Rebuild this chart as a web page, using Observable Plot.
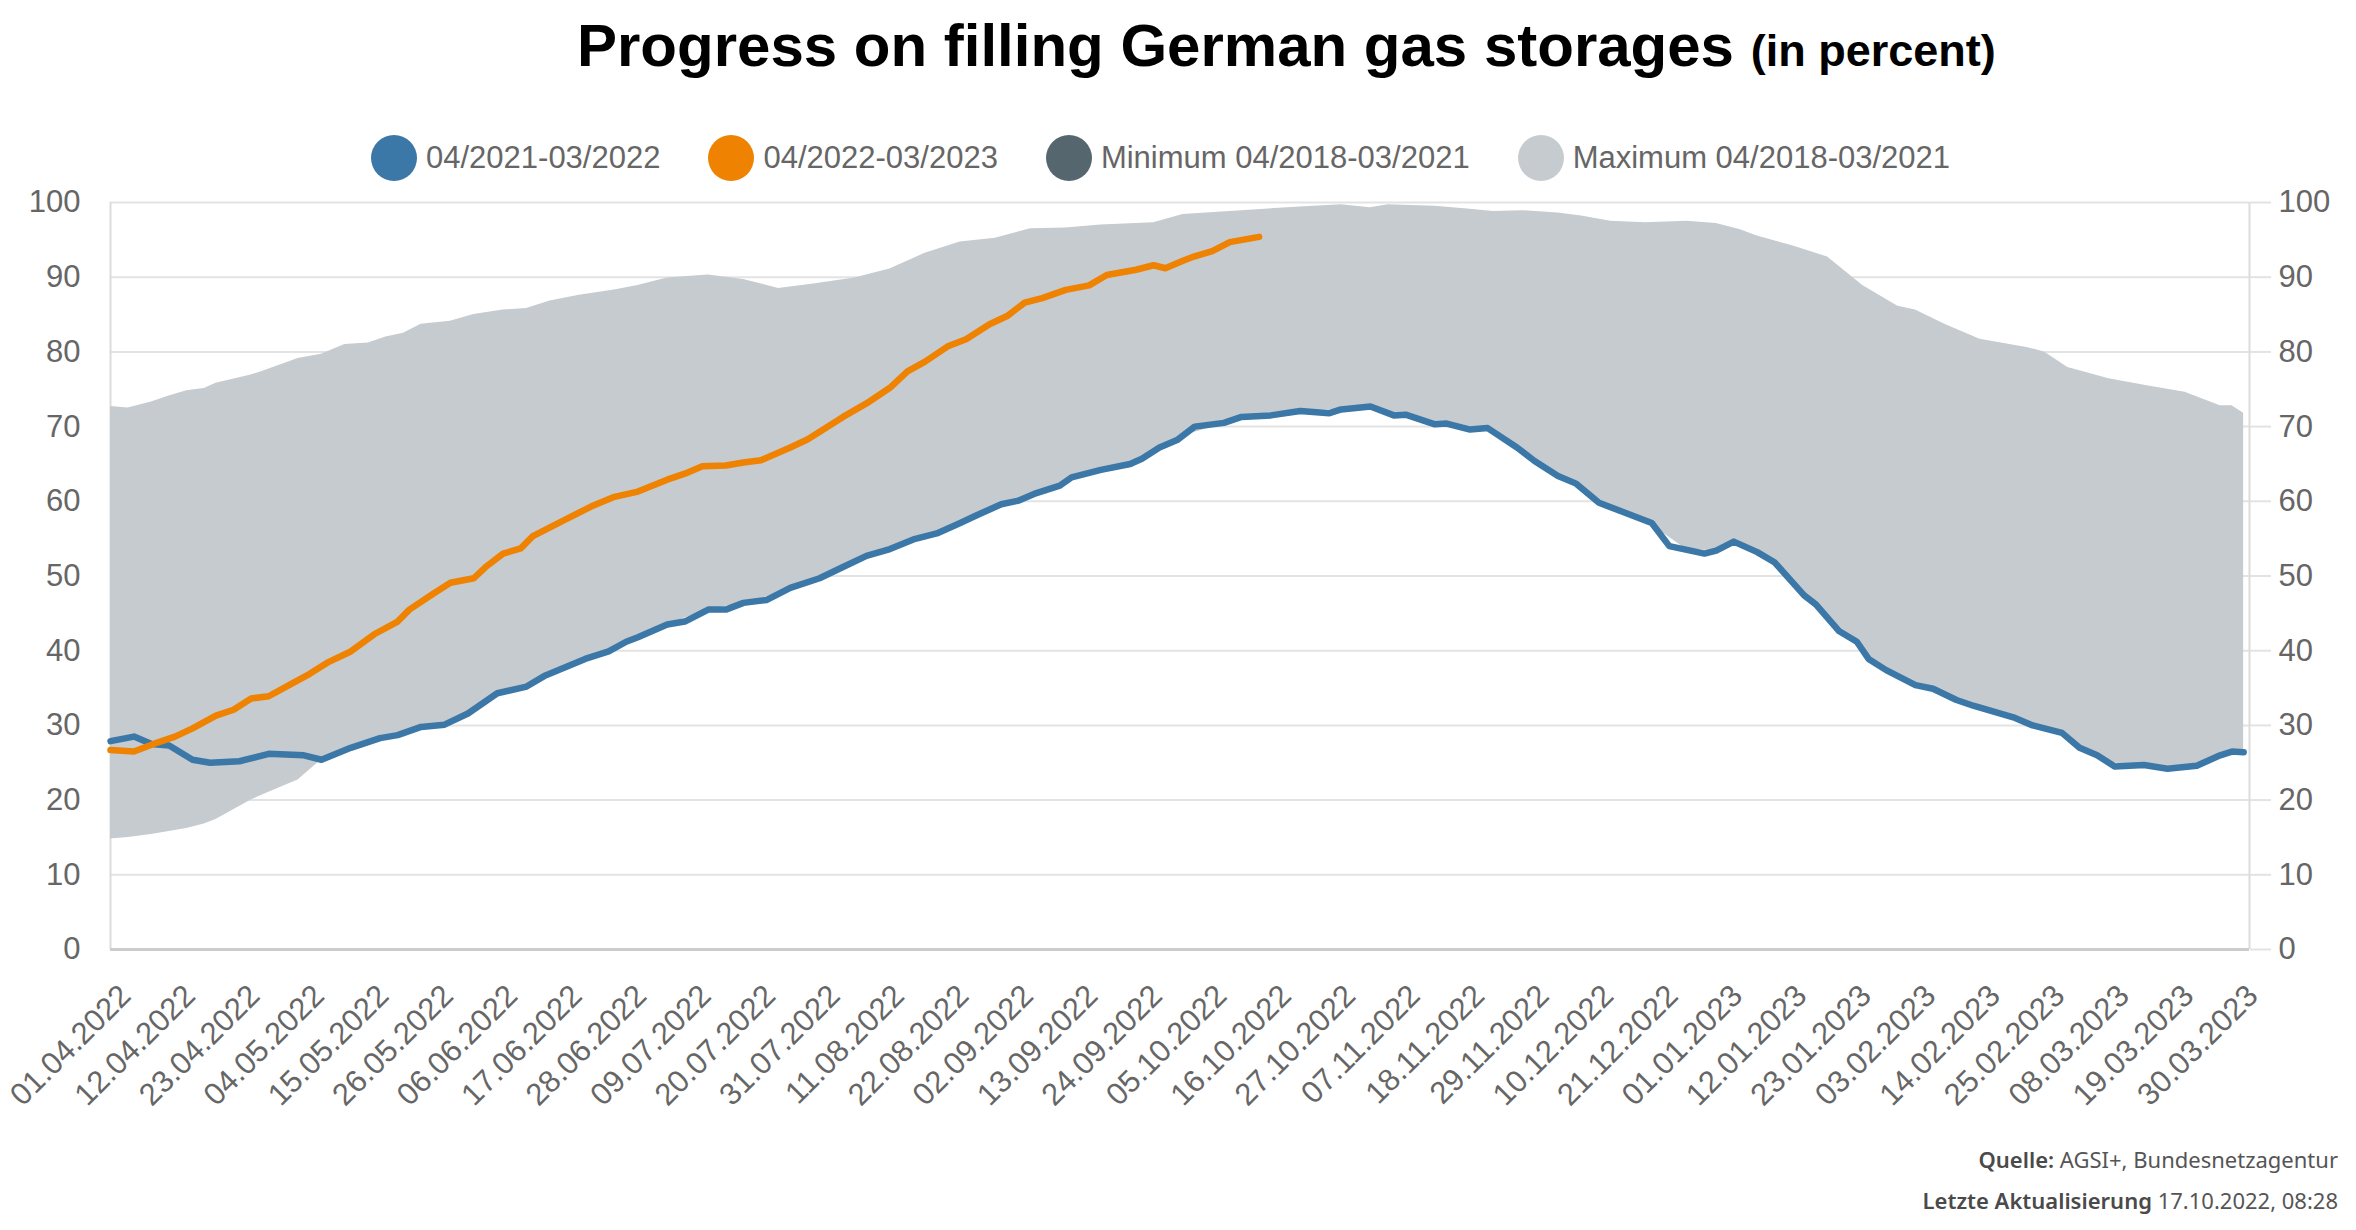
<!DOCTYPE html>
<html>
<head>
<meta charset="utf-8">
<script src="https://cdn.jsdelivr.net/npm/d3@7"></script>
<script src="https://cdn.jsdelivr.net/npm/@observablehq/plot@0.6"></script>
<style>
  html, body { margin: 0; padding: 0; background: #fff; }
  #page { position: relative; width: 2356px; height: 1230px; overflow: hidden; font-family: "Liberation Sans", Arial, sans-serif; }
  #title { position: absolute; left: 577px; top: 16px; font-size: 60px; font-weight: bold; line-height: 1; color: #000; white-space: nowrap; }
  #title span { font-size: 45px; }
  #legend { position: absolute; left: 371px; top: 135px; height: 46px; display: flex; align-items: center; white-space: nowrap; }
  .item { display: flex; align-items: center; margin-right: 48px; }
  .dot { width: 46px; height: 46px; border-radius: 50%; margin-right: 9px; }
  .lab { font-size: 31px; color: #666; }
  #chart { position: absolute; left: 0; top: 180px; }
  .foot { position: absolute; right: 18px; font-family: "Noto Sans", sans-serif; font-size: 22px; line-height: 1; color: #555; white-space: nowrap; }
  .foot b { color: #4a4a4a; font-weight: 600; }
</style>
</head>
<body>
<div id="page">
  <div id="title">Progress on filling German gas storages <span>(in percent)</span></div>
  <div id="legend"></div>
  <div id="chart"></div>
  <div class="foot" style="top:1148px"><b>Quelle:</b> AGSI+, Bundesnetzagentur</div>
  <div class="foot" style="top:1189px"><b>Letzte Aktualisierung</b> 17.10.2022, 08:28</div>
</div>
<script>
// ---- series names & colours (legend) ----
const seriesNames = ["04/2021-03/2022", "04/2022-03/2023", "Minimum 04/2018-03/2021", "Maximum 04/2018-03/2021"];
const seriesColors = ["#3b77a7", "#ef8200", "#56666f", "#c5cbcf"];

// ---- x tick labels ----
const xTickLabels = ["01.04.2022","12.04.2022","23.04.2022","04.05.2022","15.05.2022","26.05.2022","06.06.2022","17.06.2022","28.06.2022","09.07.2022","20.07.2022","31.07.2022","11.08.2022","22.08.2022","02.09.2022","13.09.2022","24.09.2022","05.10.2022","16.10.2022","27.10.2022","07.11.2022","18.11.2022","29.11.2022","10.12.2022","21.12.2022","01.01.2023","12.01.2023","23.01.2023","03.02.2023","14.02.2023","25.02.2023","08.03.2023","19.03.2023","30.03.2023"];
const yTicks = [0,10,20,30,40,50,60,70,80,90,100];

// ---- 04/2021-03/2022 (blue) ----
const blueDates = ["2022-04-01","2022-04-05","2022-04-08","2022-04-11","2022-04-15","2022-04-18","2022-04-23","2022-04-28","2022-05-04","2022-05-07","2022-05-12","2022-05-17","2022-05-20","2022-05-24","2022-05-28","2022-06-01","2022-06-06","2022-06-11","2022-06-14","2022-06-21","2022-06-25","2022-06-28","2022-06-30","2022-07-05","2022-07-08","2022-07-12","2022-07-15","2022-07-18","2022-07-22","2022-07-26","2022-07-31","2022-08-04","2022-08-08","2022-08-12","2022-08-16","2022-08-20","2022-08-24","2022-08-27","2022-08-31","2022-09-03","2022-09-06","2022-09-10","2022-09-12","2022-09-17","2022-09-22","2022-09-24","2022-09-27","2022-09-30","2022-10-03","2022-10-06","2022-10-08","2022-10-11","2022-10-16","2022-10-21","2022-10-26","2022-10-28","2022-11-02","2022-11-06","2022-11-08","2022-11-13","2022-11-15","2022-11-19","2022-11-22","2022-11-27","2022-11-30","2022-12-04","2022-12-07","2022-12-11","2022-12-15","2022-12-20","2022-12-23","2022-12-29","2022-12-31","2023-01-03","2023-01-07","2023-01-10","2023-01-15","2023-01-17","2023-01-21","2023-01-24","2023-01-26","2023-01-29","2023-02-03","2023-02-06","2023-02-10","2023-02-13","2023-02-20","2023-02-23","2023-02-28","2023-03-03","2023-03-06","2023-03-09","2023-03-14","2023-03-18","2023-03-23","2023-03-27","2023-03-29","2023-03-31"];
const blueValues = [27.9,28.5,27.5,27.3,25.4,25.0,25.2,26.2,26.0,25.4,27.0,28.3,28.7,29.8,30.1,31.6,34.3,35.2,36.6,38.9,39.9,41.2,41.8,43.5,43.9,45.5,45.5,46.4,46.8,48.4,49.7,51.2,52.7,53.6,54.9,55.7,57.1,58.2,59.6,60.1,61.1,62.1,63.2,64.2,65.0,65.7,67.2,68.2,70.0,70.3,70.5,71.3,71.5,72.1,71.8,72.3,72.7,71.5,71.6,70.3,70.4,69.6,69.8,67.2,65.4,63.4,62.4,59.8,58.6,57.1,54.0,53.0,53.4,54.6,53.2,51.8,47.4,46.2,42.6,41.2,38.9,37.4,35.4,34.9,33.4,32.6,31.0,30.0,29.0,27.0,26.0,24.5,24.7,24.2,24.6,26.0,26.5,26.4];

// ---- 04/2022-03/2023 (orange) ----
const orangeDates = ["2022-04-01","2022-04-05","2022-04-09","2022-04-12","2022-04-15","2022-04-19","2022-04-22","2022-04-25","2022-04-28","2022-05-01","2022-05-05","2022-05-08","2022-05-12","2022-05-16","2022-05-20","2022-05-22","2022-05-26","2022-05-29","2022-06-02","2022-06-04","2022-06-07","2022-06-10","2022-06-12","2022-06-17","2022-06-22","2022-06-26","2022-06-30","2022-07-05","2022-07-08","2022-07-11","2022-07-15","2022-07-18","2022-07-21","2022-07-26","2022-07-29","2022-08-04","2022-08-08","2022-08-12","2022-08-15","2022-08-18","2022-08-22","2022-08-25","2022-08-29","2022-09-01","2022-09-04","2022-09-07","2022-09-11","2022-09-15","2022-09-18","2022-09-23","2022-09-26","2022-09-28","2022-10-01","2022-10-03","2022-10-06","2022-10-09","2022-10-14"];
const orangeValues = [26.7,26.5,27.7,28.5,29.6,31.3,32.1,33.6,33.9,35.2,36.9,38.4,39.9,42.2,43.9,45.5,47.6,49.1,49.7,51.2,53.0,53.7,55.3,57.3,59.3,60.6,61.3,62.9,63.7,64.7,64.8,65.2,65.5,67.2,68.3,71.3,73.1,75.2,77.4,78.7,80.8,81.7,83.7,84.8,86.6,87.2,88.3,88.9,90.3,91.0,91.6,91.2,92.2,92.8,93.5,94.7,95.4];

// ---- Minimum / Maximum 04/2018-03/2021 (grey band) ----
const bandDates = ["2022-04-01","2022-04-04","2022-04-08","2022-04-11","2022-04-14","2022-04-17","2022-04-19","2022-04-25","2022-04-27","2022-05-03","2022-05-07","2022-05-11","2022-05-15","2022-05-18","2022-05-21","2022-05-24","2022-05-29","2022-06-02","2022-06-07","2022-06-11","2022-06-15","2022-06-20","2022-06-26","2022-06-30","2022-07-05","2022-07-12","2022-07-18","2022-07-24","2022-07-30","2022-08-06","2022-08-12","2022-08-18","2022-08-24","2022-08-30","2022-09-05","2022-09-11","2022-09-17","2022-09-23","2022-09-26","2022-10-01","2022-10-13","2022-10-21","2022-10-28","2022-11-02","2022-11-05","2022-11-13","2022-11-19","2022-11-23","2022-11-28","2022-12-04","2022-12-08","2022-12-13","2022-12-19","2022-12-26","2022-12-31","2023-01-04","2023-01-07","2023-01-13","2023-01-19","2023-01-25","2023-01-31","2023-02-03","2023-02-08","2023-02-14","2023-02-22","2023-02-25","2023-03-01","2023-03-08","2023-03-15","2023-03-21","2023-03-27","2023-03-29","2023-03-31"];
const maxValues = [72.7,72.5,73.3,74.1,74.8,75.1,75.8,76.9,77.4,79.1,79.7,81.0,81.2,82.0,82.5,83.7,84.1,85.0,85.6,85.8,86.8,87.6,88.3,88.9,89.9,90.3,89.7,88.5,89.1,89.9,91.1,93.2,94.7,95.2,96.5,96.6,97.0,97.2,97.3,98.4,99.0,99.4,99.7,99.3,99.7,99.5,99.1,98.8,98.9,98.6,98.2,97.5,97.3,97.5,97.2,96.4,95.5,94.2,92.7,88.9,86.1,85.6,83.7,81.7,80.6,80.0,77.9,76.4,75.4,74.6,72.8,72.8,71.8];
const minValues = [14.8,15.0,15.4,15.8,16.2,16.8,17.4,20.0,20.7,22.7,25.4,26.7,27.8,28.4,29.0,29.8,30.5,32.1,34.5,35.2,36.9,38.6,40.3,41.8,43.5,45.5,46.4,47.6,49.4,52.0,53.6,55.3,57.1,59.2,60.8,62.6,64.2,65.3,66.7,68.8,71.4,72.1,72.3,72.7,71.8,70.3,69.6,69.3,66.6,63.4,62.0,59.2,57.4,53.5,53.4,54.3,53.2,49.2,44.4,40.0,36.2,35.4,34.1,32.4,30.3,29.6,28.3,25.0,24.6,24.4,26.0,26.5,26.4];

// ---- legend (HTML) ----
const legend = document.getElementById("legend");
seriesNames.forEach((name, i) => {
  const it = document.createElement("div"); it.className = "item";
  const dot = document.createElement("div"); dot.className = "dot"; dot.style.background = seriesColors[i];
  const lab = document.createElement("div"); lab.className = "lab"; lab.textContent = name;
  it.appendChild(dot); it.appendChild(lab); legend.appendChild(it);
});

// ---- tables ----
const parse = s => new Date(s + "T00:00:00Z");
const blue = blueDates.map((d, i) => ({date: parse(d), value: blueValues[i]}));
const orange = orangeDates.map((d, i) => ({date: parse(d), value: orangeValues[i]}));
const band = bandDates.map((d, i) => ({date: parse(d), min: minValues[i], max: maxValues[i]}));
const xTicks = xTickLabels.map(s => { const [dd, mm, yy] = s.split("."); return parse(`${yy}-${mm}-${dd}`); });
const xStart = parse("2022-04-01"), xEnd = parse("2023-04-01");

const labelColor = "#666";
const gridColor = "#e3e3e3";

const chart = Plot.plot({
  width: 2356,
  height: 950,
  marginTop: 22,
  marginBottom: 181,
  marginLeft: 110,
  marginRight: 107,
  x: {type: "utc", domain: [xStart, xEnd], axis: null},
  y: {domain: [0, 100], axis: null},
  style: {fontFamily: "'Liberation Sans', Arial, sans-serif", fontSize: "31px", color: labelColor, background: "transparent", overflow: "visible"},
  marks: [
    Plot.ruleY(yTicks, {stroke: gridColor, strokeWidth: 2}),
    Plot.ruleX([xStart], {stroke: "#dcdcdc", strokeWidth: 2}),
    Plot.ruleX([xEnd], {stroke: "#dcdcdc", strokeWidth: 2}),
    Plot.axisY(yTicks, {anchor: "left", tickSize: 0, tickPadding: 30, fontSize: 31, fill: labelColor, label: null, tickFormat: d => String(d)}),
    Plot.axisY(yTicks, {anchor: "right", tickSize: 21, tickPadding: 8, stroke: gridColor, strokeWidth: 2, fontSize: 31, fill: labelColor, label: null, tickFormat: d => String(d)}),
    Plot.areaY(band, {x: "date", y1: "min", y2: "max", fill: seriesColors[3]}),
    Plot.ruleY([0], {stroke: "#cccccc", strokeWidth: 3}),
    Plot.lineY(blue, {x: "date", y: "value", stroke: seriesColors[0], strokeWidth: 6.5, strokeLinejoin: "round"}),
    Plot.lineY(orange, {x: "date", y: "value", stroke: seriesColors[1], strokeWidth: 6.5, strokeLinejoin: "round"}),
    Plot.text(xTicks, {x: d => d, frameAnchor: "bottom", text: (d, i) => xTickLabels[i], rotate: -45, textAnchor: "end", lineAnchor: "middle", dx: 15, dy: 41, fontSize: 31, fill: labelColor})
  ]
});
document.getElementById("chart").appendChild(chart);
</script>
</body>
</html>
